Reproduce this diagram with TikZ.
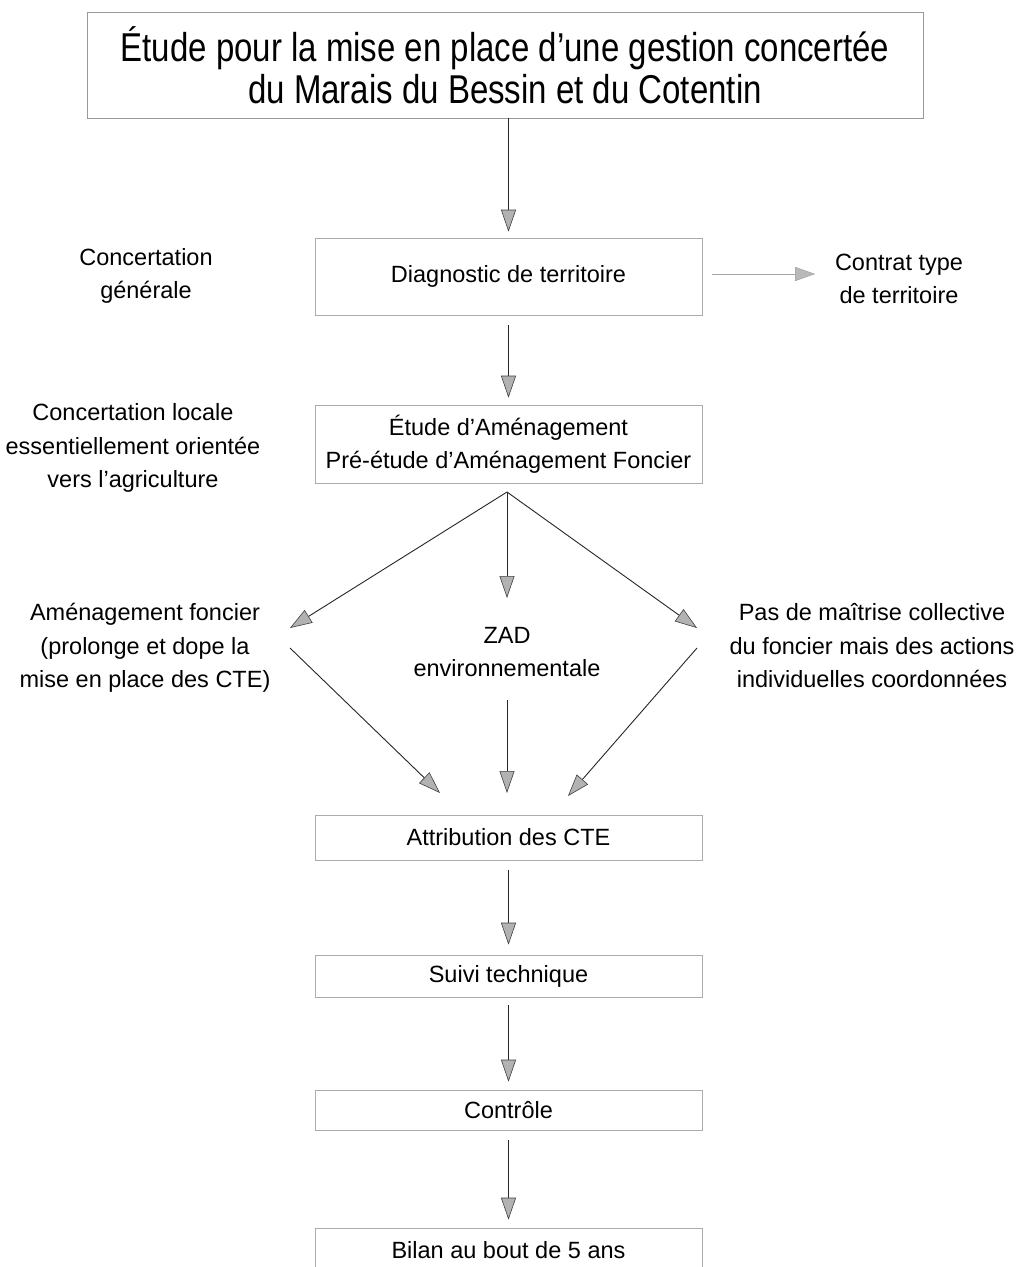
\documentclass[tikz,border=0pt]{standalone}
\usepackage{fontspec}
\setmainfont{Liberation Sans}
\usetikzlibrary{arrows.meta}
\begin{document}
\begin{tikzpicture}[x=1pt,y=-1pt,
  box/.style={draw=gray!65,line width=0.6pt,minimum width=387pt,inner sep=0pt},
  txt/.style={align=center,inner sep=0pt,font=\fontsize{23.5}{33.5}\selectfont},
  arr/.style={draw=black!85,line width=0.9pt,-{Triangle[length=22pt,width=15pt,fill=gray!60,color=black!75,line width=0.6pt]}},
  larr/.style={draw=gray!70,line width=0.7pt,-{Triangle[length=20pt,width=14pt,fill=gray!55,color=gray!80,line width=0.4pt]}}]
\useasboundingbox (0,0) rectangle (1017,1267);
\clip (0,0) rectangle (1017,1267);
\fill[white] (0,0) rectangle (1017,1267);
% title
\node[draw=gray!80,line width=0.7pt,minimum width=836pt,minimum height=106pt,inner sep=0pt,align=center,font=\fontsize{33}{40}\selectfont] (title) at (505,65)
  {\scalebox{1}[1.22]{Étude pour la mise en place d’une gestion concertée}\\[2pt]\scalebox{1}[1.22]{du Marais du Bessin et du Cotentin}};
% boxes
\node[box,minimum height=77pt,txt] (diag) at (508.5,276.5) {Diagnostic de territoire};
\node[box,minimum height=78pt,txt] (etude) at (508.5,444) {Étude d’Aménagement\\Pré-étude d’Aménagement Foncier};
\node[box,minimum height=45pt,txt] (attr) at (508.5,837.5) {Attribution des CTE};
\node[box,minimum height=42pt,txt] (suivi) at (508.5,976) {Suivi technique};
\node[box,minimum height=40pt,txt] (ctrl) at (508.5,1110) {Contrôle};
\node[box,minimum height=60pt,txt,text depth=0pt] (bilan) at (508.5,1258) {};
\node[txt] (bilant) at (508.5,1250) {Bilan au bout de 5 ans};
% side texts
\node[txt] (cg) at (146,276) {Concertation\\générale};
\node[txt] (ct) at (899,279) {Contrat type\\de territoire};
\node[txt] (cl) at (133,448) {Concertation locale\\essentiellement orientée\\vers l’agriculture};
\node[txt] (af) at (145,648) {Aménagement foncier\\(prolonge et dope la\\mise en place des CTE)};
\node[txt] (zad) at (507,652) {ZAD\\environnementale};
\node[txt] (pm) at (872,646) {Pas de maîtrise collective\\du foncier mais des actions\\individuelles coordonnées};
% coordinates
\coordinate (fork) at (507,492);
\coordinate (afin) at (290,628);
\coordinate (afout) at (290,648);
\coordinate (pmin) at (697,628);
\coordinate (pmout) at (697,648);
\coordinate (zadin) at (507,598);
\coordinate (zadout) at (507,700);
\coordinate (attrl) at (440,793);
\coordinate (attrc) at (507,793);
\coordinate (attrr) at (568,796);
\coordinate (ctstart) at (712,274);
\coordinate (ctin) at (815,274);
% arrows
\draw[arr] (title.south -| diag.north) -- ([yshift=6pt]diag.north);
\draw[larr] (ctstart) -- (ctin);
\draw[arr] ([yshift=-10pt]diag.south) -- ([yshift=7pt]etude.north);
\draw[arr] (fork) -- (afin);
\draw[arr] (fork) -- (zadin);
\draw[arr] (fork) -- (pmin);
\draw[arr] (afout) -- (attrl);
\draw[arr] (zadout) -- (attrc);
\draw[arr] (pmout) -- (attrr);
\draw[arr] ([yshift=-10pt]attr.south) -- ([yshift=10pt]suivi.north);
\draw[arr] ([yshift=-8pt]suivi.south) -- ([yshift=8pt]ctrl.north);
\draw[arr] ([yshift=-10pt]ctrl.south) -- ([yshift=8pt]bilan.north);
\end{tikzpicture}
\end{document}
